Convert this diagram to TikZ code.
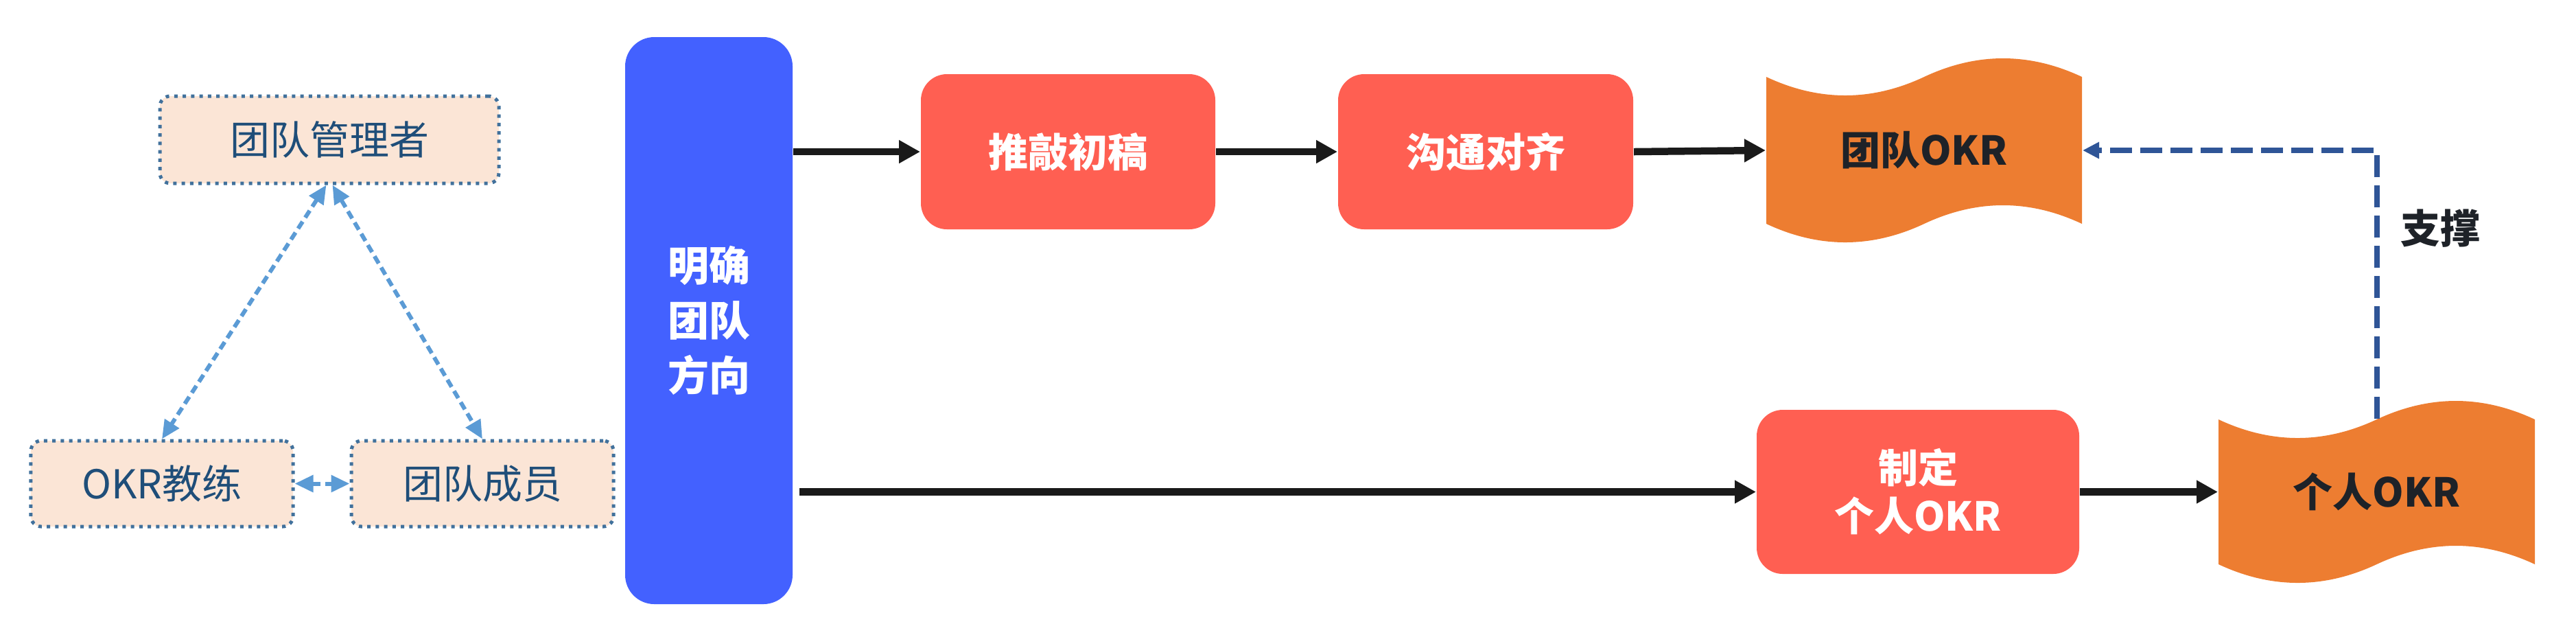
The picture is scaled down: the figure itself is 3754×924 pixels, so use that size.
\documentclass[tikz,border=0pt]{standalone}
\usepackage{fontspec}
\setmainfont{Noto Sans CJK SC}
\usetikzlibrary{arrows.meta,calc}
\definecolor{peach}{HTML}{FBE5D6}
\definecolor{dotblue}{HTML}{41719C}
\definecolor{txtblue}{HTML}{1F4E79}
\definecolor{lightblue}{HTML}{5B9BD5}
\definecolor{barblue}{HTML}{4361FF}
\definecolor{boxred}{HTML}{FF5F52}
\definecolor{okrorange}{HTML}{ED7D31}
\definecolor{darktxt}{HTML}{1E2228}
\definecolor{supblue}{HTML}{2F5597}
\definecolor{arrowblack}{HTML}{1A1A1A}
\newcommand\okrtape[4]{%
 \fill[okrorange] ({#1},{#3}) .. controls ({#1+(#2-#1)/6},{#3+36}) and ({#1+(#2-#1)/3},{#3+36}) .. ({(#1+#2)/2},{#3})
  .. controls ({#1+2*(#2-#1)/3},{#3-36}) and ({#1+5*(#2-#1)/6},{#3-36}) .. ({#2},{#3})
  -- ({#2},{#4}) .. controls ({#1+5*(#2-#1)/6},{#4-36}) and ({#1+2*(#2-#1)/3},{#4-36}) .. ({(#1+#2)/2},{#4})
  .. controls ({#1+(#2-#1)/3},{#4+36}) and ({#1+(#2-#1)/6},{#4+36}) .. ({#1},{#4}) -- cycle;}
\begin{document}
\begin{tikzpicture}[x=0.2pt,y=-0.2pt,
  rolebox/.style={draw=dotblue, fill=peach, line width=1pt, dash pattern=on 1pt off 1.45pt,
    rounded corners=3pt, text=txtblue, font=\fontsize{11.6pt}{14pt}\selectfont, inner sep=0pt},
  barbox/.style={fill=barblue, rounded corners=8.5pt, text=white, align=center, inner sep=0pt,
    font=\bfseries\fontsize{12pt}{16pt}\selectfont},
  stepbox/.style={fill=boxred, rounded corners=7.6pt, text=white, align=center, inner sep=0pt,
    font=\bfseries\fontsize{11.6pt}{14pt}\selectfont},
  tapetext/.style={inner sep=0pt, text=darktxt, font=\bfseries\fontsize{11.6pt}{14pt}\selectfont},
  flow/.style={-{Triangle[length=6.2pt,width=6.4pt]}, draw=arrowblack, line width=2.1pt},
  rel/.style={{Triangle[length=5.4pt,width=4.8pt]}-{Triangle[length=5.4pt,width=4.8pt]}, draw=lightblue,
    line width=1.2pt, dash pattern=on 2.4pt off 1.4pt},
  support/.style={-{Triangle[length=4.8pt,width=4.6pt]}, draw=supblue, line width=1.6pt,
    dash pattern=on 6.4pt off 2.4pt}
]
\useasboundingbox (0,0) rectangle (3754,924);

% left role boxes
\node[rolebox, minimum width=98.8pt, minimum height=25.4pt] (mgr) at (480,203.5) {团队管理者};
\node[rolebox, minimum width=76.4pt, minimum height=25pt] (coach) at (236,704.5) {OKR教练};
\node[rolebox, minimum width=76.4pt, minimum height=25pt] (member) at (703,704.5) {团队成员};

\draw[rel] ([xshift=-0.9pt]mgr.south) -- (coach.north);
\draw[rel] ([xshift=0.9pt]mgr.south) -- (member.north);
\draw[rel] (coach.east) -- (member.west);

% direction bar
\node[barbox, minimum width=48.8pt, minimum height=165.2pt] (bar) at (1033,467) {明确\\团队\\方向};

% steps
\node[stepbox, minimum width=85.8pt, minimum height=45.2pt] (draft) at (1556.5,221) {推敲初稿};
\node[stepbox, minimum width=86pt, minimum height=45.2pt] (align) at (2165,221) {沟通对齐};
\node[stepbox, minimum width=94pt, minimum height=47.8pt] (personal) at (2795,716.5) {制定\\个人OKR};

% tapes
\okrtape{2574}{3034}{112}{326}
\node[tapetext, minimum width=92pt, minimum height=42.8pt] (teamokr) at (2804,219) {团队OKR};
\okrtape{3233}{3694}{611}{822}
\node[tapetext, minimum width=92.2pt, minimum height=42.2pt] (indokr) at (3463.5,716.5) {个人OKR};

% connectors
\draw[flow] (draft.west -| bar.east) -- (draft.west);
\draw[flow] (draft.east) -- (align.west);
\draw[flow] (align.east) -- (teamokr.west);
\coordinate (b2) at ($(bar.east |- personal.west)+(9,0)$);
\draw[flow] (b2) -- (personal.west);
\draw[flow] (personal.east) -- (indokr.west);

\draw[support] (indokr.north) |- (teamokr.east);
\node[tapetext] (suplabel) at (3556,333) {支撑};
\end{tikzpicture}
\end{document}
